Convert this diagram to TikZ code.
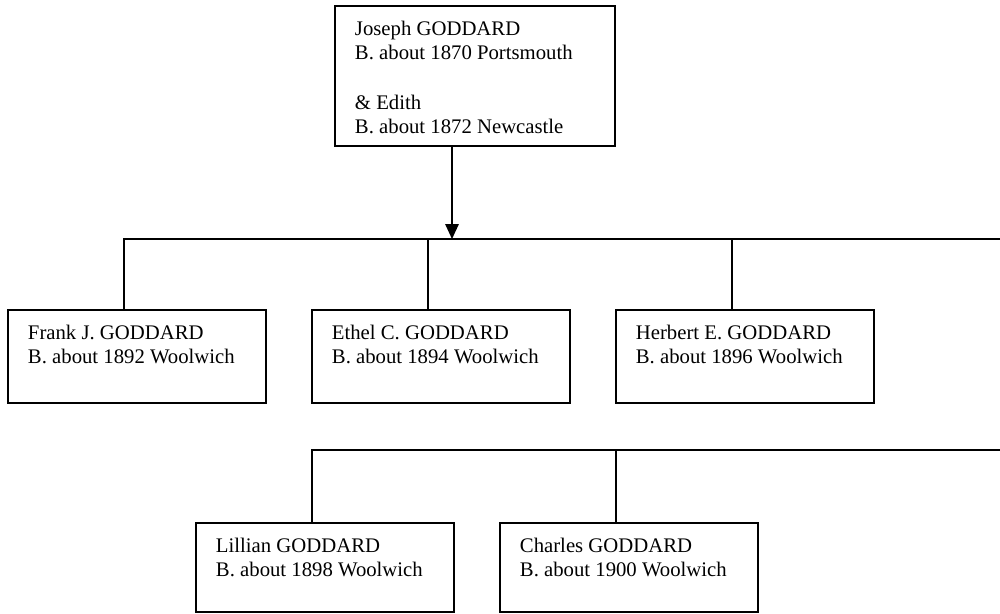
\documentclass[tikz,border=0pt]{standalone}
\usepackage{fontspec}
\setmainfont{Liberation Serif}
\usetikzlibrary{positioning,calc,arrows.meta}

\newcommand{\famtext}[3]{\parbox[c][#2][t]{#1}{\vspace*{0.3cm}\leftskip=0.4cm #3}}

\begin{document}
\begin{tikzpicture}[
    x=0.02cm, y=-0.02cm,
    node distance=0.92cm,
    person/.style={draw, line width=0.9pt, inner sep=0pt, outer sep=0pt, anchor=north west, font=\fontsize{11.8}{14}\selectfont},
    link/.style={line width=0.9pt},
    arrow/.style={link, -{Triangle[length=0.3cm, width=0.27cm]}}
]
\useasboundingbox (0,0) rectangle (1000,613);

% Parents
\node[person] (joseph) at (335,6) {\famtext{5.6cm}{2.8cm}{Joseph GODDARD\\B. about 1870 Portsmouth\\[14pt]\& Edith\\B. about 1872 Newcastle}};

% Children, first row
\node[person] (frank) at (8,310) {\famtext{5.16cm}{1.86cm}{Frank J. GODDARD\\B. about 1892 Woolwich}};
\node[person, right=of frank] (ethel) {\famtext{5.16cm}{1.86cm}{Ethel C. GODDARD\\B. about 1894 Woolwich}};
\node[person, right=of ethel] (herbert) {\famtext{5.16cm}{1.86cm}{Herbert E. GODDARD\\B. about 1896 Woolwich}};

% Children, second row
\node[person] (lillian) at (196,523) {\famtext{5.16cm}{1.78cm}{Lillian GODDARD\\B. about 1898 Woolwich}};
\node[person, right=of lillian] (charles) {\famtext{5.16cm}{1.78cm}{Charles GODDARD\\B. about 1900 Woolwich}};

% Bars
\coordinate (bar1end) at (1000,239);
\coordinate (bar2end) at (1000,450);
\coordinate (jdrop) at ($(joseph.south west)+(117,0)$);
\draw[arrow] (jdrop) -- (jdrop |- bar1end);

\foreach \kid/\bar in {frank/bar1end,ethel/bar1end,herbert/bar1end,lillian/bar2end,charles/bar2end}{
  \coordinate (kdrop) at ($(\kid.north west)+(116,0)$);
  \draw[link] (kdrop) |- (\bar);
}
\end{tikzpicture}
\end{document}
